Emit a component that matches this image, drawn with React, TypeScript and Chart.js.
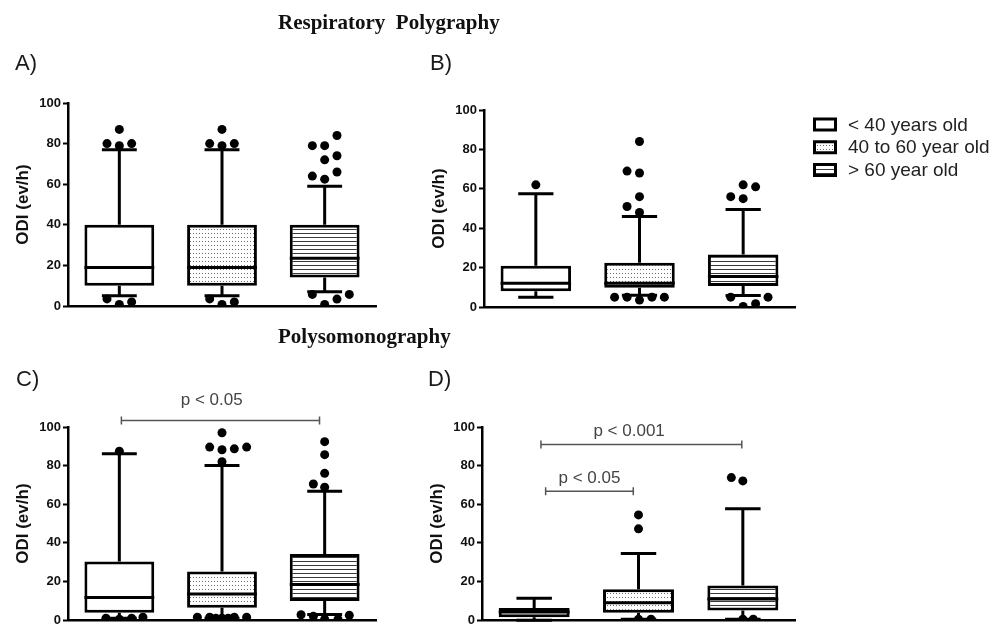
import React, { useEffect, useRef } from "react";
import { Chart, registerables } from "chart.js";

Chart.register(...registerables);

// ---------- data ----------
const groupLabels = ["< 40 years old", "40 to 60 year old", "> 60 year old"];
const groupPositions = [0, 1, 2];
const yTickValues = [0, 20, 40, 60, 80, 100];
const yAxisTitle = "ODI (ev/h)";
const topTitle = "Respiratory  Polygraphy";
const bottomTitle = "Polysomonography";
const panelLetters = ["A)", "B)", "C)", "D)"];

// [lower whisker, Q1, median, Q3, upper whisker] per age group
const boxesA = [
  [5, 10, 19, 40, 77],
  [5, 10, 19, 40, 77],
  [7, 14, 23.5, 40, 59],
];
const boxesB = [
  [5, 8, 12, 21, 57.5],
  [6, 9.8, 12, 22.5, 46],
  [5.8, 10.7, 15.5, 26.6, 49.5],
];
const boxesC = [
  [1, 3.8, 11.8, 30.4, 86.2],
  [1, 6.5, 13.6, 25.2, 80.1],
  [3, 9.9, 18.5, 34.3, 66.8],
];
const boxesD = [
  [0, 1.5, 4.3, 6.3, 11.4],
  [0.5, 3.8, 9, 16, 34.5],
  [0.5, 5, 11, 18, 57.7],
];

// outliers: [horizontal jitter (in group units), value]
const outliersA = [
  [[0, 87], [-0.12, 80], [0.12, 80], [0, 79], [-0.12, 3.5], [0, 0.8], [0.12, 2]],
  [[0, 87], [-0.12, 80], [0.12, 80], [0, 79], [-0.12, 3.5], [0, 0.8], [0.12, 2]],
  [[0.12, 84], [-0.12, 79], [0, 79], [0.12, 74], [0, 72], [0.12, 66], [-0.12, 64], [0, 62.5],
   [-0.12, 5.7], [0.24, 5.7], [0, 0.8], [0.12, 3.4]],
];
const outliersB = [
  [[0, 62]],
  [[0, 84], [-0.12, 69], [0, 68], [0, 56], [-0.12, 51], [0, 48],
   [-0.24, 5], [-0.12, 5], [0, 3.5], [0.12, 5], [0.24, 5]],
  [[0, 62], [0.12, 61], [-0.12, 56], [0, 55], [-0.12, 5], [0.24, 5], [0, 0.3], [0.12, 1.7]],
];
const outliersC = [
  [[0, 87.5], [-0.13, 1], [0, 0.5], [0.12, 1], [0.23, 1.5]],
  [[0, 97], [-0.12, 89.6], [0, 88.2], [0.12, 88.7], [0.24, 89.6], [0, 82],
   [-0.24, 1.5], [-0.12, 1.5], [-0.06, 1], [0, 1], [0.06, 1], [0.12, 1.5], [0.24, 1.5]],
  [[0, 92.4], [0, 85.7], [0, 76], [-0.11, 70.5], [0, 68.8],
   [-0.23, 2.8], [-0.11, 2], [0, 0.5], [0.13, 0.5], [0.24, 2.5]],
];
const outliersD = [
  [],
  [[0, 54.5], [0, 47.3], [0, 0.5], [0.12, 0.5]],
  [[-0.11, 73.8], [0, 72.1], [0, 0.5], [0.1, 0.5]],
];

type Bracket = { from: number; to: number; at: number; text: string; textX: number; textY: number };
const bracketsA: Bracket[] = [];
const bracketsB: Bracket[] = [];
const bracketsC: Bracket[] = [
  { from: 0.02, to: 1.95, at: 103.3, text: "p < 0.05", textX: 0.9, textY: 111.3 },
];
const bracketsD: Bracket[] = [
  { from: 0.065, to: 1.99, at: 90.9, text: "p < 0.001", textX: 0.91, textY: 95.3 },
  { from: 0.11, to: 0.95, at: 66.7, text: "p < 0.05", textX: 0.53, textY: 70.8 },
];

// ---------- styling ----------
const SANS = '"Liberation Sans", Arial, sans-serif';
const SERIF = '"Liberation Serif", "Times New Roman", serif';
const BOX_FRACTION = 0.68;
const HALF_BOX = BOX_FRACTION / 2;
const HALF_CAP = HALF_BOX / 2;

function makeDots(): CanvasPattern {
  const c = document.createElement("canvas");
  c.width = 3;
  c.height = 4;
  const g = c.getContext("2d")!;
  g.fillStyle = "#ffffff";
  g.fillRect(0, 0, 3, 4);
  g.fillStyle = "#6a6a6a";
  g.fillRect(1, 1, 1, 1);
  return g.createPattern(c, "repeat")!;
}

function makeStripes(): CanvasPattern {
  const c = document.createElement("canvas");
  c.width = 4;
  c.height = 4;
  const g = c.getContext("2d")!;
  g.fillStyle = "#ffffff";
  g.fillRect(0, 0, 4, 4);
  g.fillStyle = "#3a3a3a";
  g.fillRect(0, 1, 4, 1);
  return g.createPattern(c, "repeat")!;
}

type PanelProps = {
  left: number;
  top: number;
  width: number;
  height: number;
  padding: { left: number; top: number; right: number; bottom: number };
  boxes: number[][];
  outliers: number[][][];
  brackets: Bracket[];
  legend?: boolean;
};

function Panel(p: PanelProps) {
  const ref = useRef<HTMLCanvasElement>(null);
  useEffect(() => {
    const canvas = ref.current!;
    const fills: (string | CanvasPattern)[] = ["#ffffff", makeDots(), makeStripes()];

    const boxData = p.boxes.map((b, i) => ({ x: groupPositions[i], y: [b[1], b[3]] }));
    const whiskerData: { x: number; y: number | null }[] = [];
    p.boxes.forEach(([lo, q1, , q3, hi], k) => {
      const i = groupPositions[k];
      whiskerData.push({ x: i, y: lo }, { x: i, y: q1 }, { x: i, y: null });
      whiskerData.push({ x: i, y: q3 }, { x: i, y: hi }, { x: i, y: null });
      whiskerData.push({ x: i - HALF_CAP, y: hi }, { x: i + HALF_CAP, y: hi }, { x: i, y: null });
      whiskerData.push({ x: i - HALF_CAP, y: lo }, { x: i + HALF_CAP, y: lo }, { x: i, y: null });
    });
    const medianData: { x: number; y: number | null }[] = [];
    p.boxes.forEach((b, k) => {
      const i = groupPositions[k];
      medianData.push({ x: i - HALF_BOX, y: b[2] }, { x: i + HALF_BOX, y: b[2] }, { x: i, y: null });
    });
    const outlierData: { x: number; y: number }[] = [];
    p.outliers.forEach((list, k) => {
      list.forEach(([dx, v]) => outlierData.push({ x: groupPositions[k] + dx, y: v }));
    });

    const bracketPlugin = {
      id: "brackets",
      afterDraw(chart: any) {
        const { ctx, scales } = chart;
        const xs = scales.x;
        const ys = scales.y;
        ctx.save();
        p.brackets.forEach((b) => {
          const x1 = xs.getPixelForValue(b.from);
          const x2 = xs.getPixelForValue(b.to);
          const y = ys.getPixelForValue(b.at);
          ctx.strokeStyle = "#555555";
          ctx.lineWidth = 1.5;
          ctx.beginPath();
          ctx.moveTo(x1, y);
          ctx.lineTo(x2, y);
          ctx.moveTo(x1, y - 4);
          ctx.lineTo(x1, y + 4);
          ctx.moveTo(x2, y - 4);
          ctx.lineTo(x2, y + 4);
          ctx.stroke();
          ctx.fillStyle = "#444444";
          ctx.font = `17px ${SANS}`;
          ctx.textAlign = "center";
          ctx.textBaseline = "alphabetic";
          ctx.fillText(b.text, xs.getPixelForValue(b.textX), ys.getPixelForValue(b.textY));
        });
        ctx.restore();
      },
    };

    const legendPlugin = {
      id: "boxLegend",
      afterDraw(chart: any) {
        if (!p.legend) return;
        const { ctx, chartArea } = chart;
        const bx = chartArea.right + 18;
        ctx.save();
        groupLabels.forEach((label, i) => {
          const cy = chartArea.top + 14.5 + i * 22.75;
          ctx.fillStyle = fills[i] as any;
          ctx.fillRect(bx, cy - 7, 24, 14);
          ctx.strokeStyle = "#000000";
          ctx.lineWidth = 3;
          ctx.strokeRect(bx + 1.5, cy - 5.5, 21, 11);
          ctx.fillStyle = "#222222";
          ctx.font = `19px ${SANS}`;
          ctx.textAlign = "left";
          ctx.textBaseline = "middle";
          ctx.fillText(label, bx + 35, cy + 1);
        });
        ctx.restore();
      },
    };

    const chart = new Chart(canvas, {
      type: "scatter",
      data: {
        datasets: [
          {
            type: "bar",
            data: boxData as any,
            backgroundColor: fills as any,
            borderColor: "#000000",
            borderWidth: 3,
            borderSkipped: false,
            barPercentage: BOX_FRACTION,
            categoryPercentage: 1,
            grouped: false,
            order: 3,
          } as any,
          {
            type: "line",
            data: whiskerData as any,
            borderColor: "#000000",
            borderWidth: 3,
            pointRadius: 0,
            pointHitRadius: 0,
            spanGaps: false,
            fill: false,
            clip: false,
            order: 2,
          } as any,
          {
            type: "line",
            data: medianData as any,
            borderColor: "#000000",
            borderWidth: 3,
            pointRadius: 0,
            pointHitRadius: 0,
            spanGaps: false,
            fill: false,
            clip: false,
            order: 2,
          } as any,
          {
            type: "scatter",
            data: outlierData,
            pointRadius: 4.5,
            pointBackgroundColor: "#000000",
            pointBorderWidth: 0,
            clip: { left: 20, right: 20, top: 20, bottom: 0 },
            order: 1,
          } as any,
        ],
      },
      options: {
        responsive: false,
        animation: false,
        events: [],
        layout: { padding: p.padding },
        plugins: {
          legend: { display: false },
          tooltip: { enabled: false },
        },
        scales: {
          x: {
            type: "linear",
            min: -0.5,
            max: 2.5,
            offset: false,
            afterBuildTicks: (s: any) => {
              s.ticks = groupPositions.map((v) => ({ value: v }));
            },
            ticks: { display: false },
            grid: { display: false, drawTicks: false },
            border: { display: true, color: "#000000", width: 2.5 },
            afterFit: (s: any) => {
              s.height = 0;
            },
          },
          y: {
            type: "linear",
            min: 0,
            max: 100,
            afterBuildTicks: (s: any) => {
              s.ticks = yTickValues.map((v) => ({ value: v }));
            },
            ticks: {
              font: { family: SANS, size: 13, weight: "bold" },
              color: "#111111",
              padding: 2,
            },
            grid: {
              display: true,
              drawOnChartArea: false,
              drawTicks: true,
              tickLength: 5,
              tickWidth: 2,
              tickColor: "#000000",
            },
            border: { display: true, color: "#000000", width: 2.5 },
            title: {
              display: true,
              text: yAxisTitle,
              font: { family: SANS, size: 17, weight: "bold" },
              color: "#111111",
              padding: { top: 3, bottom: 3 },
            },
            afterFit: (s: any) => {
              s.width = 58;
            },
          },
        },
      } as any,
      plugins: [bracketPlugin, legendPlugin],
    });
    return () => chart.destroy();
  }, []);
  return (
    <canvas
      ref={ref}
      width={p.width}
      height={p.height}
      style={{ position: "absolute", left: p.left, top: p.top, width: p.width, height: p.height }}
    />
  );
}

const letterStyle: React.CSSProperties = {
  position: "absolute",
  fontFamily: SANS,
  fontSize: 22,
  lineHeight: "22px",
  color: "#1a1a1a",
  margin: 0,
  zIndex: 2,
};

const titleStyle: React.CSSProperties = {
  position: "absolute",
  fontFamily: SERIF,
  fontWeight: "bold",
  fontSize: 21,
  lineHeight: "21px",
  color: "#111111",
  whiteSpace: "pre",
  zIndex: 2,
};

export default function App() {
  return (
    <div
      style={{
        position: "fixed",
        left: 0,
        top: 0,
        width: 1005,
        height: 630,
        overflow: "hidden",
        background: "#ffffff",
      }}
    >
      <div style={{ ...titleStyle, left: 278, top: 12 }}>{topTitle}</div>
      <div style={{ ...titleStyle, left: 278, top: 326 }}>{bottomTitle}</div>
      <div style={{ ...letterStyle, left: 15, top: 52 }}>{panelLetters[0]}</div>
      <div style={{ ...letterStyle, left: 430, top: 52 }}>{panelLetters[1]}</div>
      <div style={{ ...letterStyle, left: 16, top: 368 }}>{panelLetters[2]}</div>
      <div style={{ ...letterStyle, left: 428, top: 368 }}>{panelLetters[3]}</div>
      <Panel
        left={0}
        top={0}
        width={420}
        height={320}
        padding={{ left: 10, top: 103, right: 44, bottom: 14 }}
        boxes={boxesA}
        outliers={outliersA}
        brackets={bracketsA}
      />
      <Panel
        left={420}
        top={0}
        width={585}
        height={320}
        padding={{ left: 6, top: 110, right: 210, bottom: 13 }}
        boxes={boxesB}
        outliers={outliersB}
        brackets={bracketsB}
        legend
      />
      <Panel
        left={0}
        top={320}
        width={420}
        height={310}
        padding={{ left: 10, top: 107, right: 44, bottom: 2 }}
        boxes={boxesC}
        outliers={outliersC}
        brackets={bracketsC}
      />
      <Panel
        left={420}
        top={320}
        width={585}
        height={310}
        padding={{ left: 4, top: 107, right: 210, bottom: 2 }}
        boxes={boxesD}
        outliers={outliersD}
        brackets={bracketsD}
      />
    </div>
  );
}
